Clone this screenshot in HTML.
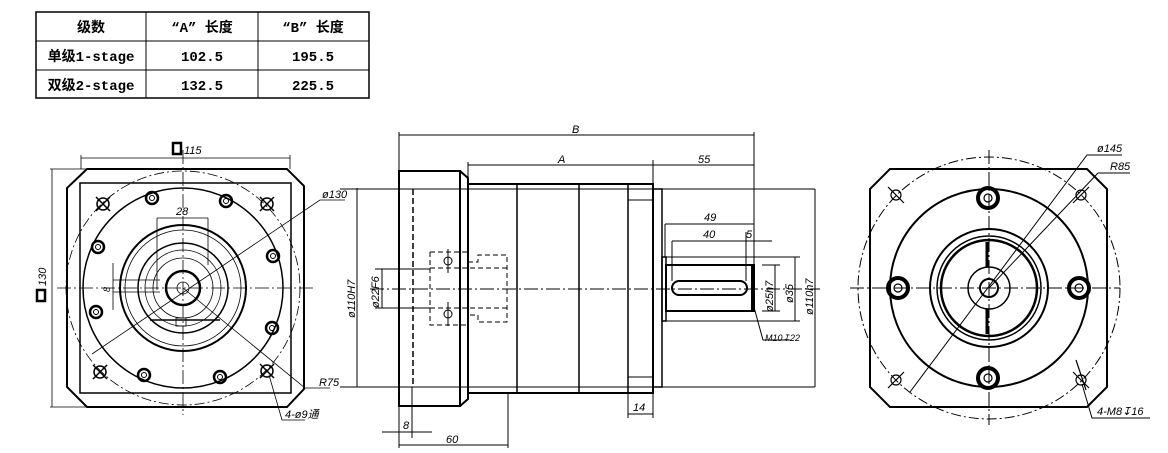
<!DOCTYPE html>
<html><head><meta charset="utf-8"><style>
html,body{margin:0;padding:0;background:#fff;}
svg{display:block;}
text{font-family:"Liberation Sans","Noto Sans CJK SC",sans-serif;font-style:italic;fill:#000;}
.t{font-family:"Liberation Mono","Noto Sans CJK SC",monospace;font-weight:bold;font-style:normal;font-size:14px;}
</style></head><body>
<svg width="1168" height="453" viewBox="0 0 1168 453" xmlns="http://www.w3.org/2000/svg">
<g fill="none" stroke="#000">
<rect x="36" y="12" width="333" height="86" stroke-width="1.5"/>
<line x1="36" y1="41" x2="369" y2="41"/><line x1="36" y1="70" x2="369" y2="70"/>
<line x1="146" y1="12" x2="146" y2="98"/><line x1="258" y1="12" x2="258" y2="98"/>
</g>
<g text-anchor="middle">
<text class="t" x="91" y="32">级数</text>
<text class="t" x="202" y="32">“A” 长度</text>
<text class="t" x="313" y="32">“B” 长度</text>
<text class="t" x="91" y="61">单级1-stage</text>
<text class="t" x="202" y="61">102.5</text>
<text class="t" x="313" y="61">195.5</text>
<text class="t" x="91" y="90">双级2-stage</text>
<text class="t" x="202" y="90">132.5</text>
<text class="t" x="313" y="90">225.5</text>
</g>

<!-- LEFT VIEW -->
<g fill="none" stroke="#000" stroke-width="0.8">
<polygon points="87,169 287,169 304,186 304,389 287,407 87,407 67,387 67,188" stroke-width="2"/>
<rect x="80" y="183" width="211" height="210" stroke-width="1.5"/>
<circle cx="183" cy="288" r="117" stroke-dasharray="10,3,2,3"/>
<circle cx="183" cy="288" r="100" stroke-width="1.5"/>
<circle cx="183" cy="288" r="63" stroke-width="2"/>
<circle cx="183" cy="288" r="58"/>
<circle cx="183" cy="288" r="45" stroke-width="1.5"/>
<circle cx="183" cy="288" r="38"/>
<circle cx="183" cy="288" r="30"/>
<circle cx="183" cy="288" r="17" stroke-width="2.5"/>
<circle cx="183" cy="288" r="6"/>
<path d="M150,320 L220,320" stroke-width="1.5"/>
<rect x="176" y="318" width="10" height="8"/>
<g stroke-width="2.5">
<circle cx="152" cy="198" r="6"/><circle cx="226" cy="201" r="6"/><circle cx="98" cy="247" r="6"/><circle cx="273" cy="256" r="6"/>
<circle cx="96" cy="312" r="6"/><circle cx="272" cy="328" r="6"/><circle cx="144" cy="375" r="6"/><circle cx="220" cy="377" r="6"/>
</g>
<g stroke-width="1">
<circle cx="152" cy="198" r="2.5"/><circle cx="226" cy="201" r="2.5"/><circle cx="98" cy="247" r="2.5"/><circle cx="273" cy="256" r="2.5"/>
<circle cx="96" cy="312" r="2.5"/><circle cx="272" cy="328" r="2.5"/><circle cx="144" cy="375" r="2.5"/><circle cx="220" cy="377" r="2.5"/>
</g>
<g stroke-width="1.5">
<circle cx="103" cy="204" r="6"/><circle cx="267" cy="204" r="6"/><circle cx="100" cy="372" r="6"/><circle cx="267" cy="371" r="6"/>
<path d="M96,197 L110,211 M110,197 L96,211 M260,197 L274,211 M274,197 L260,211 M93,365 L107,379 M107,365 L93,379 M260,364 L274,378 M274,364 L260,378"/>
</g>
<line x1="57" y1="288" x2="313" y2="288" stroke-dasharray="14,3,2,3"/>
<line x1="183" y1="150" x2="183" y2="415" stroke-dasharray="14,3,2,3"/>
<line x1="81" y1="158" x2="290" y2="158"/><line x1="81" y1="155" x2="81" y2="169"/><line x1="290" y1="155" x2="290" y2="169"/>
<line x1="52" y1="169" x2="52" y2="407"/><line x1="50" y1="169" x2="87" y2="169"/><line x1="50" y1="407" x2="87" y2="407"/>
<line x1="157" y1="218" x2="208" y2="218"/><line x1="157" y1="218" x2="157" y2="290"/><line x1="208" y1="218" x2="208" y2="265"/>
<line x1="113" y1="263" x2="113" y2="310"/><line x1="113" y1="280" x2="160" y2="280"/><line x1="113" y1="292" x2="160" y2="292"/>
<path d="M92,354 L320,200 L345,200"/>
<path d="M183,288 L305,388 L330,388"/>
<path d="M269,375 L282,420 L305,420"/>
</g>
<rect x="173" y="143" width="8" height="11" fill="none" stroke="#000" stroke-width="2.5"/>
<text x="184" y="154" font-size="11">115</text>
<text x="176" y="215" font-size="11">28</text>
<text x="322" y="198" font-size="11">ø130</text>
<text x="319" y="386" font-size="11">R75</text>
<text x="285" y="418" font-size="11">4-ø9通</text>
<text transform="translate(46,286) rotate(-90)" font-size="11">130</text>
<rect x="37" y="290" width="8" height="11" fill="none" stroke="#000" stroke-width="2.5"/>
<text transform="translate(110,292) rotate(-90)" font-size="9">8</text>

<!-- MIDDLE VIEW -->
<g fill="none" stroke="#000" stroke-width="1">
<line x1="340" y1="189" x2="815" y2="189"/><line x1="340" y1="387" x2="815" y2="387"/>
<rect x="399" y="171" width="61" height="235" stroke-width="2"/>
<path d="M460,171 L468,178 L468,399 L460,406" stroke-width="2"/>
<rect x="468" y="184" width="185" height="209" stroke-width="2"/>
<line x1="517" y1="184" x2="517" y2="393" stroke-width="1.5"/>
<line x1="579" y1="184" x2="579" y2="393" stroke-width="1.5"/>
<line x1="628" y1="184" x2="628" y2="393" stroke-width="1.5"/>
<line x1="628" y1="200" x2="653" y2="200"/><line x1="628" y1="377" x2="653" y2="377"/>
<rect x="653" y="189" width="9" height="198" stroke-width="1.5"/>
<rect x="662" y="257" width="4" height="64" stroke-width="1.5"/>
<rect x="666" y="265" width="88" height="46" stroke-width="2"/>
<line x1="752" y1="265" x2="752" y2="311" stroke-width="2"/>
<rect x="672" y="281" width="75" height="14" rx="7" stroke-width="2"/>
<line x1="413" y1="189" x2="413" y2="387" stroke-dasharray="6,3" stroke-width="1.5"/>
<path d="M430,252 L468,252 M430,252 L430,325 L468,325 M468,262 L478,262 L478,255 L507,255 L507,322 L478,322 L478,315 L468,315 M430,268 L507,268 M430,308 L507,308" stroke-dasharray="5,3"/>
<circle cx="448" cy="261" r="4"/><circle cx="448" cy="314" r="4"/>
<line x1="448" y1="249" x2="448" y2="273"/><line x1="448" y1="302" x2="448" y2="326"/>
<line x1="370" y1="289" x2="820" y2="289" stroke-dasharray="14,3,2,3"/>
<line x1="399" y1="135" x2="754" y2="135"/><line x1="399" y1="132" x2="399" y2="171"/><line x1="754" y1="132" x2="754" y2="265"/>
<line x1="468" y1="165" x2="754" y2="165"/><line x1="468" y1="162" x2="468" y2="184"/><line x1="653" y1="160" x2="653" y2="189"/>
<line x1="665" y1="224" x2="754" y2="224"/><line x1="665" y1="224" x2="665" y2="257"/>
<line x1="672" y1="241" x2="772" y2="241"/><line x1="672" y1="241" x2="672" y2="281"/><line x1="746" y1="232" x2="746" y2="281"/>
<line x1="628" y1="393" x2="628" y2="418"/><line x1="653" y1="393" x2="653" y2="418"/><line x1="628" y1="414" x2="653" y2="414"/>
<line x1="399" y1="406" x2="399" y2="448"/><line x1="412" y1="387" x2="412" y2="438"/><line x1="382" y1="432" x2="432" y2="432"/>
<line x1="508" y1="393" x2="508" y2="448"/><line x1="399" y1="445" x2="508" y2="445"/>
<line x1="375" y1="269" x2="430" y2="269"/><line x1="375" y1="308" x2="430" y2="308"/><line x1="382" y1="269" x2="382" y2="308"/>
<line x1="762" y1="265" x2="780" y2="265"/><line x1="762" y1="311" x2="780" y2="311"/><line x1="775" y1="265" x2="775" y2="311"/>
<line x1="666" y1="257" x2="800" y2="257"/><line x1="666" y1="321" x2="800" y2="321"/><line x1="795" y1="257" x2="795" y2="321"/>
<line x1="815" y1="189" x2="815" y2="387"/>
<line x1="357" y1="188" x2="357" y2="387"/>
<path d="M752,300 L763,340 L790,340"/>
</g>
<g font-size="11">
<text x="572" y="133">B</text><text x="558" y="163">A</text><text x="698" y="163">55</text>
<text x="704" y="221">49</text><text x="703" y="238">40</text><text x="746" y="238">5</text>
<text x="633" y="411">14</text><text x="403" y="429">8</text><text x="446" y="443">60</text>
<text x="765" y="341" font-size="9">M10↧22</text>
<text transform="translate(379,308) rotate(-90)">ø22F6</text>
<text transform="translate(773,312) rotate(-90)">ø25h7</text>
<text transform="translate(793,303) rotate(-90)">ø35</text>
<text transform="translate(813,315) rotate(-90)">ø110h7</text>
<text transform="translate(355,318) rotate(-90)">ø110H7</text>
</g>

<!-- RIGHT VIEW -->
<g fill="none" stroke="#000" stroke-width="1">
<polygon points="890,169 1087,169 1107,189 1107,387 1087,407 890,407 870,387 870,189" stroke-width="2"/>
<circle cx="989" cy="288" r="131" stroke-dasharray="10,3,2,3"/>
<circle cx="989" cy="288" r="99" stroke-width="2"/>
<circle cx="989" cy="288" r="59" stroke-width="2"/>
<circle cx="989" cy="288" r="52" stroke-width="1.5"/>
<circle cx="989" cy="288" r="48" stroke-width="2.5"/>
<circle cx="989" cy="288" r="21" stroke-width="1.5"/>
<circle cx="989" cy="288" r="9" stroke-width="2"/>
<line x1="987" y1="242" x2="987" y2="267" stroke-width="3"/><line x1="987" y1="309" x2="987" y2="334" stroke-width="3"/>
<g stroke-width="4">
<circle cx="988" cy="198" r="10"/><circle cx="898" cy="288" r="10"/><circle cx="1079" cy="288" r="10"/><circle cx="988" cy="378" r="10"/>
</g>
<g stroke-width="1.2">
<circle cx="988" cy="198" r="4"/><circle cx="898" cy="288" r="4"/><circle cx="1079" cy="288" r="4"/><circle cx="988" cy="378" r="4"/>
<circle cx="896" cy="195" r="5"/><circle cx="1081" cy="195" r="5"/><circle cx="896" cy="380" r="5"/><circle cx="1081" cy="380" r="5"/>
<path d="M888,187 L904,203 M1089,187 L1073,203 M888,388 L904,372 M1073,372 L1089,388 M1076,360 L1086,390"/>
</g>
<line x1="850" y1="288" x2="1120" y2="288" stroke-dasharray="14,3,2,3"/>
<line x1="989" y1="150" x2="989" y2="425" stroke-dasharray="14,3,2,3"/>
<path d="M910,392 L1087,155 L1122,155"/>
<path d="M989,288 L1098,173 L1130,173"/>
<path d="M1082,384 L1092,418 L1150,418"/>
</g>
<g font-size="11">
<text x="1097" y="152">ø145</text><text x="1110" y="170">R85</text><text x="1097" y="415">4-M8↧16</text>
</g>
</svg>
</body></html>
